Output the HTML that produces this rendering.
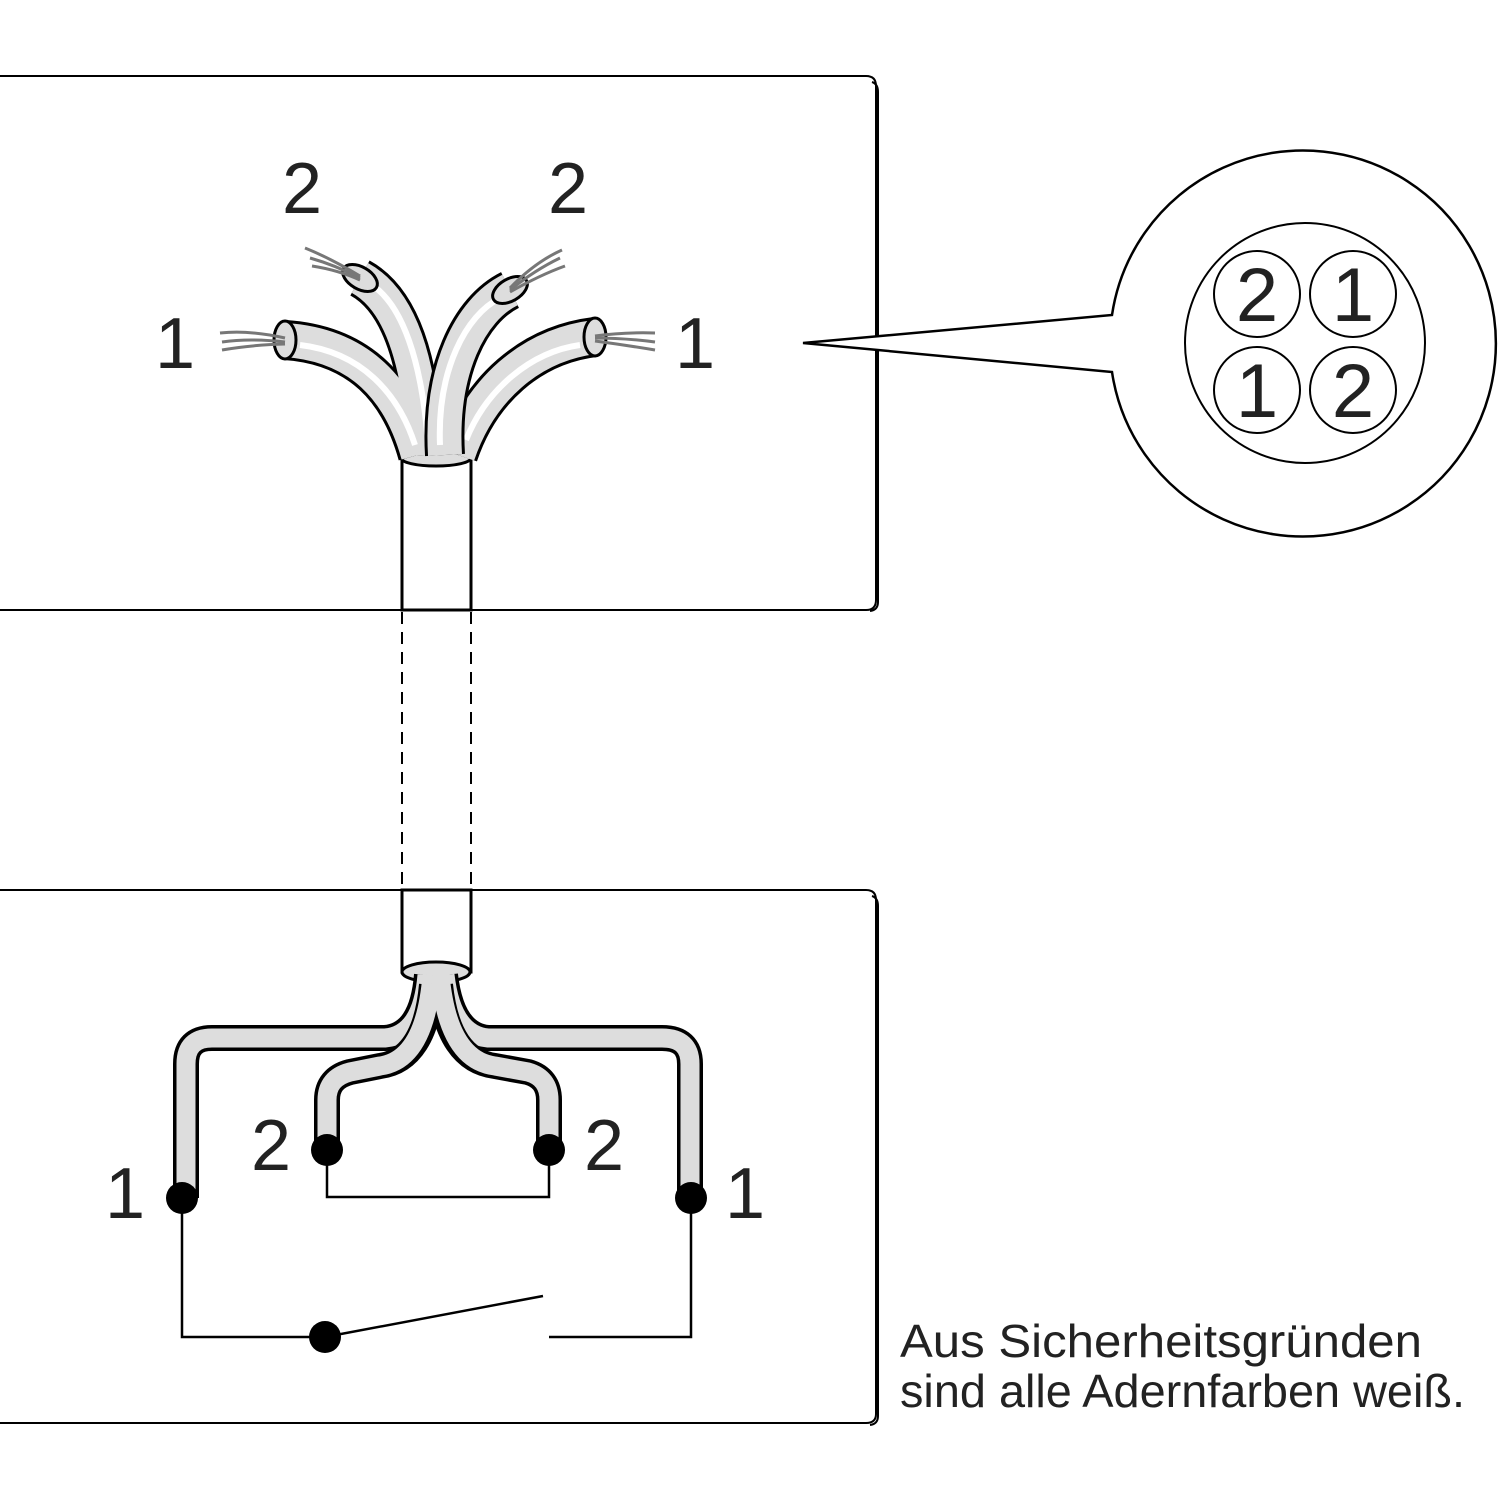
<!DOCTYPE html>
<html><head><style>html,body{margin:0;padding:0;background:#fff}svg{display:block}</style></head><body>
<svg width="1500" height="1500" viewBox="0 0 1500 1500" xmlns="http://www.w3.org/2000/svg" font-family="Liberation Sans, sans-serif">
<g fill="none" stroke="#000">
<path d="M0 76 H866 Q876 76 876 86 V600 Q876 610 866 610 H0" stroke-width="2"/>
<path d="M872 82 Q878 84 878 92 V602 Q878 610 870 611" stroke-width="2"/>
<path d="M0 890 H866 Q876 890 876 900 V1414 Q876 1423 866 1423 H0" stroke-width="2"/>
<path d="M872 896 Q878 898 878 906 V1416 Q878 1424 870 1425" stroke-width="2"/>
</g>
<g stroke="#000" stroke-width="2" stroke-dasharray="12,8">
<line x1="402" y1="612" x2="402" y2="890"/><line x1="471" y1="612" x2="471" y2="890"/>
</g>
<rect x="402" y="455" width="69" height="155" fill="#fff" stroke="#000" stroke-width="3"/>
<ellipse cx="436" cy="458" rx="35" ry="8" fill="#ddd" stroke="#000" stroke-width="3"/>
<g fill="none" stroke-linecap="butt">
<g stroke="#000" stroke-width="40">
<path d="M418 455 C400 390 360 345 285 340"/>
<path d="M425 455 C420 360 400 300 360 278"/>
<path d="M458 455 C480 390 530 345 595 337"/>
</g>
<g stroke="#ddd" stroke-width="34">
<path d="M418 455 C400 390 360 345 285 340"/>
<path d="M425 455 C420 360 400 300 360 278"/>
<path d="M458 455 C480 390 530 345 595 337"/>
</g>
<g stroke="#fff" stroke-width="6">
<path d="M415 445 C398 392 360 352 300 345"/>
<path d="M428 445 C422 360 402 305 372 285"/>
<path d="M466 440 C486 390 530 352 580 345"/>
</g>
<g stroke="#000" stroke-width="40"><path d="M445 455 C440 370 470 310 510 290"/></g>
<g stroke="#ddd" stroke-width="34"><path d="M445 455 C440 370 470 310 510 290"/></g>
<g stroke="#fff" stroke-width="6"><path d="M440 445 C437 370 466 315 500 298"/></g>
</g>
<g fill="#ddd" stroke="#000" stroke-width="3">
<ellipse cx="285" cy="340" rx="11" ry="19"/>
<ellipse cx="360" cy="278" rx="11" ry="19" transform="rotate(-60 360 278)"/>
<ellipse cx="510" cy="290" rx="11" ry="19" transform="rotate(60 510 290)"/>
<ellipse cx="595" cy="337" rx="11" ry="19"/>
</g>
<g stroke="#777" stroke-width="3" fill="none">
<path d="M220 333 Q250 330 285 338"/><path d="M222 342 Q250 338 285 342"/><path d="M222 350 Q250 345 285 344"/>
<path d="M305 248 Q330 258 360 276"/><path d="M310 258 Q335 265 360 278"/><path d="M312 266 Q338 270 360 280"/>
<path d="M562 250 Q535 262 510 288"/><path d="M560 258 Q535 270 510 290"/><path d="M565 266 Q540 275 510 292"/>
<path d="M655 333 Q625 332 595 336"/><path d="M655 342 Q625 338 595 338"/><path d="M655 350 Q625 345 595 341"/>
</g>
<rect x="402" y="890" width="69" height="82" fill="#fff" stroke="#000" stroke-width="3"/>
<ellipse cx="436" cy="972" rx="34" ry="10" fill="#ddd" stroke="#000" stroke-width="3"/>
<g fill="none" stroke-linejoin="round">
<g stroke="#000" stroke-width="26">
<path d="M427 975 Q422 1035 385 1038 H212 Q186 1038 186 1064 V1198"/>
<path d="M445 975 Q452 1035 488 1038 H662 Q690 1038 690 1064 V1198"/>
</g>
<g stroke="#ddd" stroke-width="19">
<path d="M427 975 Q422 1035 385 1038 H212 Q186 1038 186 1064 V1198"/>
<path d="M445 975 Q452 1035 488 1038 H662 Q690 1038 690 1064 V1198"/>
</g>
<g stroke="#000" stroke-width="26">
<path d="M432 985 Q425 1060 380 1066 L350 1072 Q327 1078 327 1100 V1150"/>
<path d="M440 985 Q448 1060 495 1066 L528 1072 Q549 1078 549 1100 V1150"/>
</g>
<g stroke="#ddd" stroke-width="19">
<path d="M432 975 Q425 1060 380 1066 L350 1072 Q327 1078 327 1100 V1150"/>
<path d="M440 975 Q448 1060 495 1066 L528 1072 Q549 1078 549 1100 V1150"/>
</g>
</g>
<g fill="none" stroke="#000" stroke-width="2.5">
<path d="M327 1150 V1197 H549 V1150"/>
<path d="M182 1198 V1337 H325"/>
<path d="M325 1337 L543 1296"/>
<path d="M549 1337 H691 V1198"/>
</g>
<g fill="#000">
<circle cx="182" cy="1198" r="16"/><circle cx="327" cy="1150" r="16"/>
<circle cx="549" cy="1150" r="16"/><circle cx="691" cy="1198" r="16"/>
<circle cx="325" cy="1337" r="16"/>
</g>
<path d="M1112 315 A193 193 0 1 1 1112 372 L803 343 Z" fill="#fff" stroke="#000" stroke-width="2.5"/>
<g fill="none" stroke="#000" stroke-width="2">
<circle cx="1305" cy="343" r="120"/>
<circle cx="1257" cy="294" r="43"/><circle cx="1353" cy="294" r="43"/>
<circle cx="1257" cy="390" r="43"/><circle cx="1353" cy="390" r="43"/>
</g>
<g font-size="76" fill="#222" text-anchor="middle">
<text x="1257" y="321">2</text><text x="1353" y="321">1</text>
<text x="1257" y="417">1</text><text x="1353" y="417">2</text>
</g>
<g font-size="72" fill="#222" text-anchor="middle">
<text x="302" y="213">2</text><text x="568" y="213">2</text>
<text x="175" y="368">1</text><text x="695" y="368">1</text>
<text x="271" y="1170">2</text><text x="604" y="1170">2</text>
<text x="125" y="1218">1</text><text x="745" y="1218">1</text>
</g>
<g font-size="46" fill="#222">
<text x="900" y="1357" textLength="522" lengthAdjust="spacingAndGlyphs">Aus Sicherheitsgründen</text>
<text x="900" y="1407" textLength="565" lengthAdjust="spacingAndGlyphs">sind alle Adernfarben weiß.</text>
</g>
</svg>
</body></html>
